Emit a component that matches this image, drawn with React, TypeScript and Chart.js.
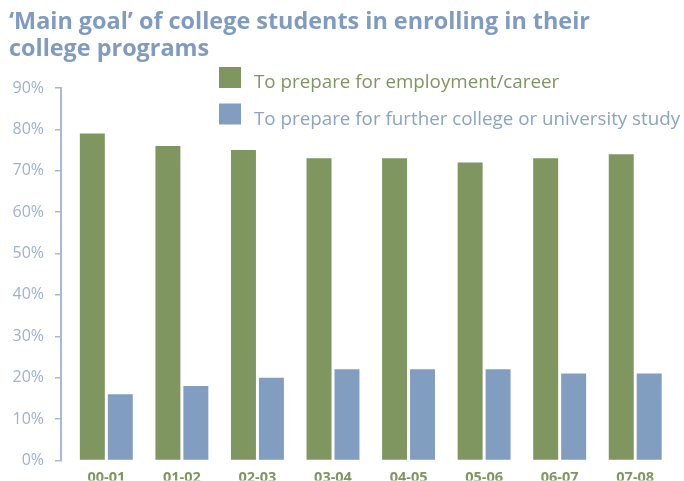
import React, { useEffect, useRef } from 'react';
import { Chart, registerables } from 'chart.js';

Chart.register(...registerables);

const titleLines = ['‘Main goal’ of college students in enrolling in their', 'college programs'];
const categories = ['00-01', '01-02', '02-03', '03-04', '04-05', '05-06', '06-07', '07-08'];
const seriesLabels = ['To prepare for employment/career', 'To prepare for further college or university study'];
const employment = [79, 76, 75, 73, 73, 72, 73, 74];
const furtherStudy = [16, 18, 20, 22, 22, 22, 21, 21];
const yMax = 90;
const yStep = 10;

const GREEN = '#7f9660';
const BLUE = '#819dbf';
const TITLE_COLOR = '#7f9bc0';
const LEGEND_TEXT = ['#7f9660', '#8aa3c6'];
const AXIS_COLOR = '#a6bad5';
const TICK_TEXT = '#9db2cf';
const FONT = '"Open Sans", "Noto Sans", sans-serif';

const overlayPlugin = {
  id: 'overlay',
  afterDraw(chart: any) {
    const ctx = chart.ctx;
    ctx.save();
    ctx.textAlign = 'left';
    ctx.textBaseline = 'alphabetic';
    ctx.fillStyle = TITLE_COLOR;
    ctx.font = `bold 23.4px ${FONT}`;
    titleLines.forEach((line, i) => ctx.fillText(line, 9, 29 + i * 27));
    chart.data.datasets.forEach((ds: any, i: number) => {
      const y = 67 + i * 36.5;
      ctx.fillStyle = ds.backgroundColor;
      ctx.fillRect(219, y, 22, 21);
      ctx.fillStyle = LEGEND_TEXT[i];
      ctx.font = `18.8px ${FONT}`;
      ctx.fillText(ds.label, 254, y + 21);
    });
    ctx.restore();
  },
};

export default function App() {
  const ref = useRef<HTMLCanvasElement>(null);
  useEffect(() => {
    if (!ref.current) return;
    const chart = new Chart(ref.current, {
      type: 'bar',
      data: {
        datasets: [
          {
            label: seriesLabels[0],
            data: employment.map((v, i) => ({ x: i, y: v })),
            backgroundColor: GREEN,
            categoryPercentage: 0.74,
            barPercentage: 0.893,
          },
          {
            label: seriesLabels[1],
            data: furtherStudy.map((v, i) => ({ x: i, y: v })),
            backgroundColor: BLUE,
            categoryPercentage: 0.74,
            barPercentage: 0.893,
          },
        ],
      },
      options: {
        responsive: false,
        animation: false,
        layout: { padding: { top: 88, right: 11, left: 0, bottom: 0 } },
        plugins: { legend: { display: false }, tooltip: { enabled: false }, title: { display: false } },
        scales: {
          x: {
            type: 'linear',
            offset: false,
            min: -0.6,
            max: 7.5,
            grid: { display: false, drawTicks: false, offset: false },
            border: { display: false },
            ticks: {
              stepSize: 1,
              includeBounds: false,
              autoSkip: false,
              maxRotation: 0,
              padding: 9,
              color: GREEN,
              font: { family: FONT, size: 14.5, weight: 'bold' },
              callback: (v: any) => categories[v] ?? '',
            },
            afterFit: (s: any) => {
              s.height = 20;
            },
          },
          y: {
            min: 0,
            max: yMax,
            grid: { drawOnChartArea: false, drawTicks: true, tickLength: 6, color: AXIS_COLOR, lineWidth: 1.5 },
            border: { display: true, color: AXIS_COLOR, width: 2 },
            ticks: {
              stepSize: yStep,
              padding: 11,
              color: TICK_TEXT,
              font: { family: FONT, size: 16 },
              callback: (v: any) => `${v}%`,
            },
            afterFit: (s: any) => {
              s.width = 61;
            },
          },
        },
      },
      plugins: [overlayPlugin],
    });
    return () => chart.destroy();
  }, []);
  return (
    <div style={{ position: 'absolute', left: 0, top: 0, width: 684, height: 481, background: '#fff' }}>
      <canvas ref={ref} width={684} height={481} />
    </div>
  );
}
